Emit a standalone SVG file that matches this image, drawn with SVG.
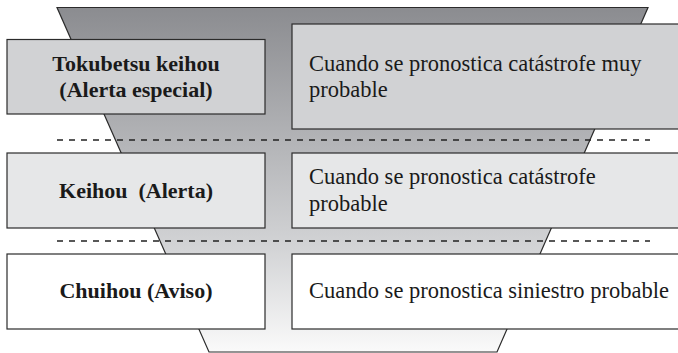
<svg xmlns="http://www.w3.org/2000/svg" width="678" height="353" viewBox="0 0 678 353">
<defs>
<linearGradient id="fg" x1="0" y1="0" x2="0" y2="1">
<stop offset="0" stop-color="#8b8c90"/>
<stop offset="0.4" stop-color="#b4b5b8"/>
<stop offset="0.7" stop-color="#d3d4d6"/>
<stop offset="1" stop-color="#fafafa"/>
</linearGradient>
<style>
.box{stroke:#2b2b2b;stroke-width:1.2}
.r1{fill:#d1d2d4}.r2{fill:#e6e7e8}.r3{fill:#ffffff}
.lbl{font-family:"Liberation Serif","Times New Roman",serif;font-size:22px;font-weight:bold;fill:#1a1a1a;text-anchor:middle}
.txt{font-family:"Liberation Serif","Times New Roman",serif;font-size:22.5px;fill:#1a1a1a}
.dash{stroke:#222222;stroke-width:1.3;stroke-dasharray:6 6;fill:none}
</style>
</defs>
<rect width="678" height="353" fill="#ffffff"/>
<g id="funnel">
<polygon points="57,7.5 648,7.5 497,352 209,352" fill="url(#fg)" stroke="#2b2b2b" stroke-width="1.2"/>
</g>
<g id="connectors">
<line class="dash" x1="57" y1="140" x2="650" y2="140"/>
<line class="dash" x1="57" y1="241" x2="650" y2="241"/>
</g>
<g id="level1">
<rect class="box r1" x="7" y="39.5" width="258" height="74.5"/>
<text class="lbl" x="136" y="71">Tokubetsu keihou</text>
<text class="lbl" x="136" y="97">(Alerta especial)</text>
</g>
<g id="desc1">
<rect class="box r1" x="292" y="24" width="400" height="105"/>
<text class="txt" x="309" y="71">Cuando se pronostica catástrofe muy</text>
<text class="txt" x="309" y="97">probable</text>
</g>
<g id="level2">
<rect class="box r2" x="7" y="153" width="258" height="75"/>
<text class="lbl" x="136" y="198" xml:space="preserve">Keihou  (Alerta)</text>
</g>
<g id="desc2">
<rect class="box r2" x="292" y="153" width="400" height="75"/>
<text class="txt" x="309" y="184">Cuando se pronostica catástrofe</text>
<text class="txt" x="309" y="211">probable</text>
</g>
<g id="level3">
<rect class="box r3" x="7" y="254" width="258" height="75"/>
<text class="lbl" x="136" y="298">Chuihou (Aviso)</text>
</g>
<g id="desc3">
<rect class="box r3" x="292" y="254" width="400" height="75"/>
<text class="txt" x="309" y="298">Cuando se pronostica siniestro probable</text>
</g>
</svg>
